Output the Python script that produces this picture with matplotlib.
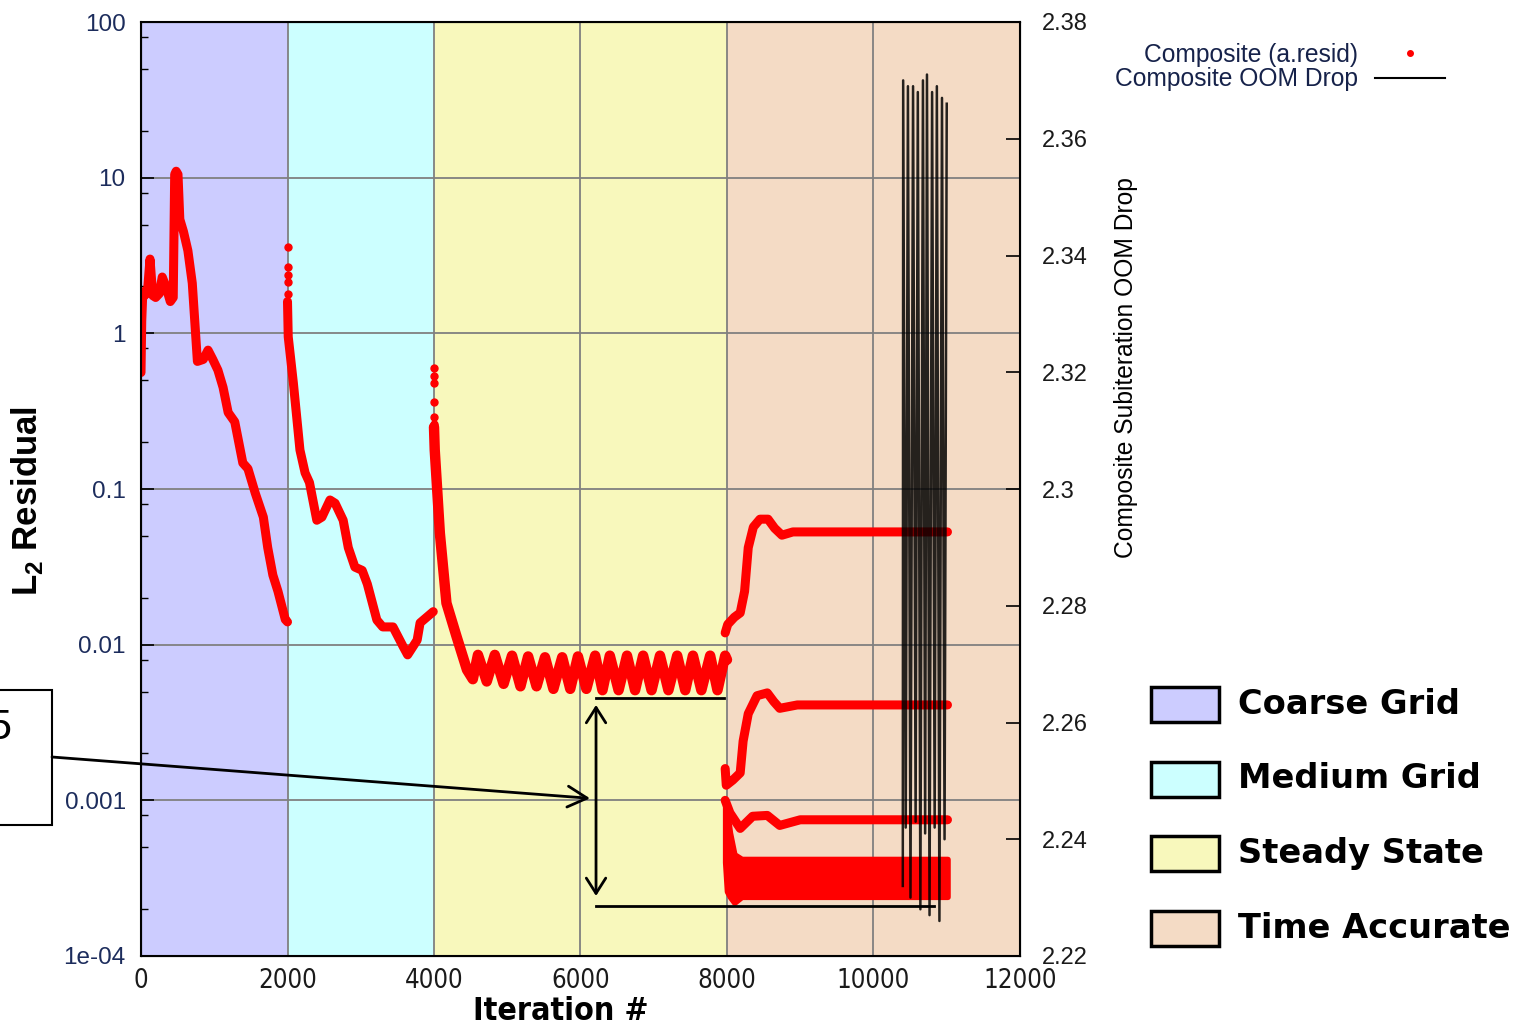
import matplotlib.pyplot as plt
from matplotlib.lines import Line2D
from matplotlib.patches import Rectangle
from matplotlib.ticker import LogLocator, NullFormatter, FuncFormatter

W, H = 1515, 1029
plt.rcParams['font.family'] = ['Liberation Sans', 'DejaVu Sans']
plt.rcParams['mathtext.fontset'] = 'custom'
plt.rcParams['mathtext.rm'] = 'Liberation Sans'
plt.rcParams['mathtext.bf'] = 'Liberation Sans:bold'

# phases (background bands)
phase_names = ['Coarse Grid', 'Medium Grid', 'Steady State', 'Time Accurate']
phase_start = [0, 2000, 4000, 8000]
phase_end = [2000, 4000, 8000, 12000]
phase_colors = ['#ccccff', '#ccffff', '#f8f8bc', '#f4dbc5']

# L2 residual, coarse grid
coarse_x = [0, 10, 25, 50, 90, 123, 160, 200, 250, 290, 340, 400, 440, 460, 480, 505,
            530, 580, 640, 700, 770, 850, 915, 980, 1050, 1120, 1190, 1280, 1390, 1460,
            1560, 1670, 1730, 1800, 1870, 1970, 2000]
coarse_y = [0.56, 1.2, 1.85, 1.75, 1.9, 3.0, 1.75, 1.7, 1.8, 2.3, 2.0, 1.6, 1.7, 10.5, 11.0, 10.5,
            5.4, 4.5, 3.4, 2.1, 0.66, 0.68, 0.78, 0.68, 0.58, 0.45, 0.31, 0.27, 0.147, 0.135,
            0.094, 0.066, 0.042, 0.028, 0.022, 0.0145, 0.014]

# medium grid
med_dot_x = [2000, 2000, 2000, 2000, 2000]
med_dot_y = [3.6, 2.66, 2.37, 2.15, 1.8]
med_x = [2000, 2010, 2080, 2170, 2240, 2300, 2400, 2470, 2580, 2650, 2760, 2830, 2920, 3020,
         3090, 3220, 3300, 3440, 3580, 3640, 3770, 3810, 3900, 3990]
med_y = [1.6, 0.95, 0.48, 0.178, 0.127, 0.11, 0.063, 0.066, 0.085, 0.081, 0.063, 0.042, 0.0315,
         0.030, 0.0245, 0.0144, 0.013, 0.013, 0.0097, 0.0086, 0.0107, 0.0138, 0.015, 0.0163]

# steady state
ss_dot_x = [4000, 4000, 4000, 4000, 4000, 4000]
ss_dot_y = [0.6, 0.53, 0.48, 0.36, 0.29, 0.26]
ss_x = [4000, 4010, 4080, 4170, 4310, 4450, 4530,
        4600, 4720, 4830, 4950, 5065, 5180, 5285, 5400, 5515, 5630, 5750, 5860, 5965, 6080,
        6200, 6300, 6400, 6520, 6635, 6745, 6855, 6970, 7085, 7200, 7320, 7430, 7535, 7650,
        7770, 7870, 7975, 8000]
ss_y = [0.25, 0.178, 0.052, 0.0185, 0.0112, 0.0069, 0.0060,
        0.0086, 0.0058, 0.0086, 0.0056, 0.0085, 0.0054, 0.0084, 0.0054, 0.0083, 0.0052,
        0.0083, 0.0052, 0.0084, 0.0052, 0.0085, 0.0051, 0.0085, 0.0051, 0.0085, 0.0051,
        0.0085, 0.0051, 0.0085, 0.0051, 0.0085, 0.0051, 0.0085, 0.0051, 0.0085, 0.0051,
        0.0085, 0.0080]

# time accurate, subiteration levels
ta1_x = [7975, 8010, 8100, 8180, 8240, 8290, 8360, 8450, 8560, 8650, 8750, 8900, 9500, 10500, 11010]
ta1_y = [0.0119, 0.0135, 0.0150, 0.016, 0.022, 0.042, 0.057, 0.064, 0.064, 0.056, 0.0505, 0.053,
         0.053, 0.053, 0.053]
ta2_x = [7975, 7990, 8080, 8180, 8220, 8290, 8410, 8550, 8640, 8720, 8960, 11010]
ta2_y = [0.0016, 0.00125, 0.00135, 0.0015, 0.0024, 0.0036, 0.0047, 0.0049, 0.0043, 0.0039,
         0.0041, 0.0041]
ta3_x = [7975, 8040, 8180, 8350, 8550, 8720, 9000, 11010]
ta3_y = [0.0010, 0.00083, 0.00066, 0.00079, 0.0008, 0.00069, 0.00075, 0.00075]
ta4_x = [7975, 8000, 8040, 8100, 8200, 8400, 11010]
ta4_hi = [0.00100, 0.00085, 0.00062, 0.00045, 0.00042, 0.00042, 0.00042]
ta4_lo = [0.00040, 0.00026, 0.00024, 0.00022, 0.00024, 0.00024, 0.00024]

# composite OOM drop (right axis)
oom_x = [10400, 10405, 10440, 10470, 10505, 10540, 10575, 10605, 10640, 10675, 10705, 10730,
         10765, 10800, 10835, 10865, 10900, 10935, 10970, 11000]
oom_y = [2.232, 2.370, 2.242, 2.369, 2.230, 2.369, 2.243, 2.368, 2.228, 2.370, 2.241, 2.371,
         2.227, 2.368, 2.242, 2.369, 2.226, 2.367, 2.240, 2.366]

left_ticks = [1e-4, 1e-3, 1e-2, 0.1, 1, 10, 100]
left_labels = ['1e-04', '0.001', '0.01', '0.1', '1', '10', '100']
right_ticks = [2.22, 2.24, 2.26, 2.28, 2.30, 2.32, 2.34, 2.36, 2.38]


def fx(px):
    return px / W


def fy(py):
    return 1 - py / H


fig = plt.figure(figsize=(W / 100, H / 100), dpi=100)
ax = fig.add_axes([141 / W, (H - 956) / H, 879 / W, 934 / H])

for s, e, c in zip(phase_start, phase_end, phase_colors):
    ax.axvspan(s, e, color=c, lw=0, zorder=0)

red = dict(color='red', lw=6.5, solid_capstyle='round', solid_joinstyle='round', zorder=3)
ax.plot(coarse_x, coarse_y, **red)
ax.plot(med_x, med_y, **red)
ax.plot(ss_x, ss_y, **{**red, 'lw': 7.5})
ax.plot(ta1_x, ta1_y, **red)
ax.plot(ta2_x, ta2_y, **red)
ax.plot(ta3_x, ta3_y, **red)
ax.fill_between(ta4_x, ta4_lo, ta4_hi, color='red', lw=4, zorder=3)
ax.plot(med_dot_x, med_dot_y, 'o', color='red', ms=5, zorder=3)
ax.plot(ss_dot_x, ss_dot_y, 'o', color='red', ms=5, zorder=3)

ax.set_yscale('log')
ax.set_ylim(1e-4, 100)
ax.set_xlim(0, 12000)
ax.set_xticks(range(0, 12001, 2000))
ax.set_yticks(left_ticks)
ax.set_yticklabels(left_labels)
ax.yaxis.set_minor_locator(LogLocator(base=10, subs=[2, 5, 8]))
ax.yaxis.set_minor_formatter(NullFormatter())
ax.grid(True, which='major', color='#808080', lw=1.3)
ax.tick_params(axis='y', which='major', direction='in', length=9, width=1.2, pad=11,
               labelsize=17.5, labelcolor='#1c2c5c')
ax.tick_params(axis='y', which='minor', direction='in', length=5, width=1)
ax.tick_params(axis='x', direction='in', length=0, pad=9, labelsize=18.5, labelcolor='#1a1a1a')
for lbl in ax.get_xticklabels():
    lbl.set_family('DejaVu Sans')
    lbl.set_fontstretch('condensed')
for sp in ax.spines.values():
    sp.set_linewidth(1.5)

# annotation lines and arrows
ax.plot([6212, 7960], [0.00454, 0.00454], color='black', lw=2, zorder=4)
ax.plot([6212, 10820], [0.00021, 0.00021], color='black', lw=2, zorder=4)
ax.annotate('', xy=(6212, 0.000243), xytext=(6212, 0.0041),
            arrowprops=dict(arrowstyle='<->,head_length=1.1,head_width=0.7', lw=2,
                            color='black', shrinkA=0, shrinkB=0))
ax.annotate('', xy=(6130, 0.00103), xycoords='data', xytext=(52, H - 757),
            textcoords='figure pixels',
            arrowprops=dict(arrowstyle='->,head_length=1.4,head_width=0.75', lw=2,
                            color='black', shrinkA=0, shrinkB=0),
            annotation_clip=False)

ax2 = ax.twinx()
ax2.plot(oom_x, oom_y, color='black', lw=1.8, alpha=0.85)
ax2.set_ylim(2.22, 2.38)
ax2.set_yticks(right_ticks)
ax2.yaxis.set_major_formatter(FuncFormatter(lambda v, p: f'{v:g}'))
ax2.tick_params(axis='y', direction='in', length=10, width=1.2, pad=16, labelsize=17,
                labelcolor='#1a1a1a')

# axis titles
fig.text(fx(561), fy(1012), 'Iteration #', ha='center', va='center', fontsize=23,
         fontweight='bold', family='DejaVu Sans', fontstretch='condensed')
fig.text(fx(27), fy(501), r'L$_\mathbf{2}$ Residual', rotation=90, ha='center', va='center',
         fontsize=25, fontweight='bold')
fig.text(fx(1126), fy(368), 'Composite Subiteration OOM Drop', rotation=90, ha='center',
         va='center', fontsize=17.7)

# top legend (gnuplot style)
fig.text(fx(1358), fy(55), 'Composite (a.resid)', ha='right', va='center', fontsize=17.7,
         color='#16224a')
fig.text(fx(1358), fy(79), 'Composite OOM Drop', ha='right', va='center', fontsize=17.7,
         color='#16224a')
fig.add_artist(Line2D([fx(1410)], [fy(53)], marker='o', color='red', ms=4,
                      transform=fig.transFigure))
fig.add_artist(Line2D([fx(1375), fx(1445)], [fy(78), fy(78)], color='black', lw=1.5,
                      transform=fig.transFigure))

# phase legend
for i, (name, c) in enumerate(zip(phase_names, phase_colors)):
    top = 687 + 74.7 * i
    fig.add_artist(Rectangle((fx(1151), fy(top + 35)), 68 / W, 35 / H, facecolor=c,
                             edgecolor='black', lw=2.5, transform=fig.transFigure))
    fig.text(fx(1238), fy(top + 17), name, ha='left', va='center', fontsize=24.2,
             fontweight='bold', family='DejaVu Sans')

# cut-off callout box on the left
fig.add_artist(Rectangle((fx(-5), fy(825)), 57 / W, 135 / H, fill=False, edgecolor='black',
                         lw=1.5, transform=fig.transFigure))
fig.text(fx(11), fy(728), '5', ha='right', va='center', fontsize=31)

fig.savefig('out.png', dpi=100)
